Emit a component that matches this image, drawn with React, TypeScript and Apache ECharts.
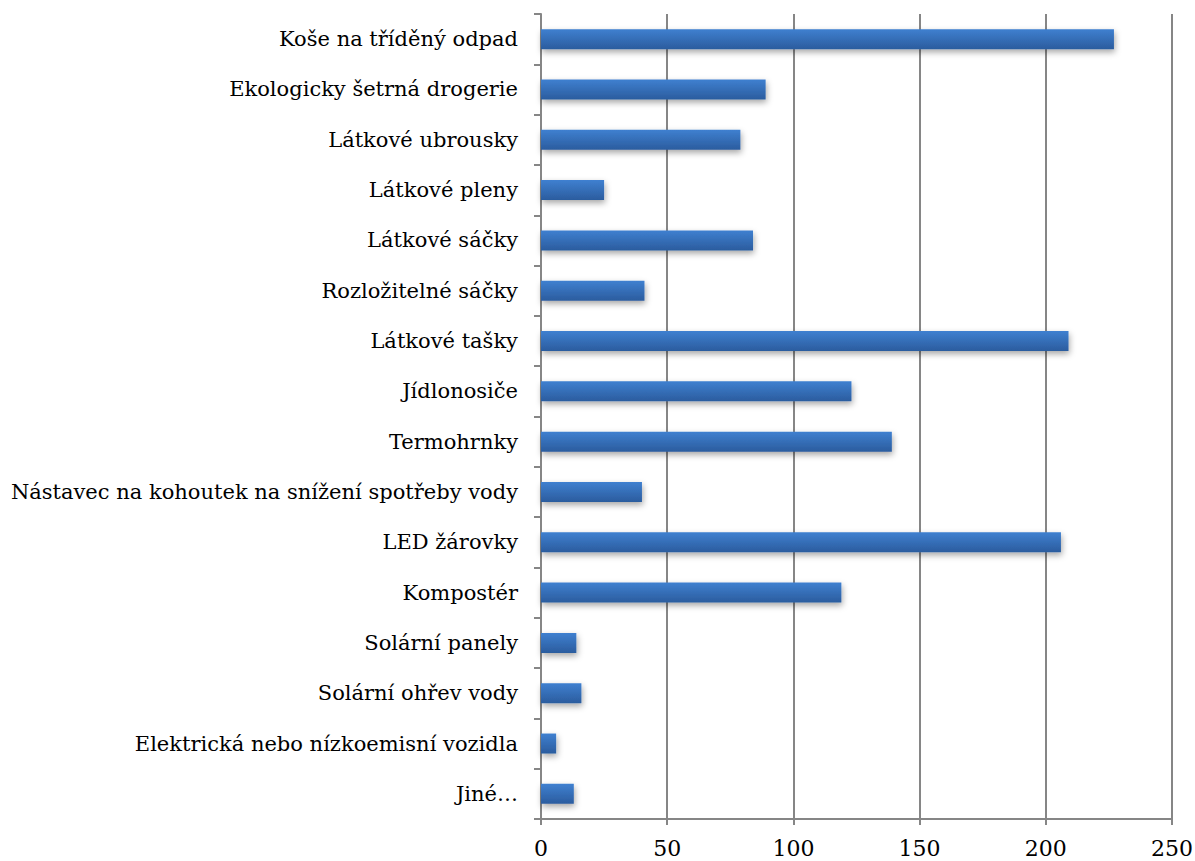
import React, { useEffect, useRef } from "react";
import * as echarts from "echarts";

const categories = [
  "Koše na tříděný odpad",
  "Ekologicky šetrná drogerie",
  "Látkové ubrousky",
  "Látkové pleny",
  "Látkové sáčky",
  "Rozložitelné sáčky",
  "Látkové tašky",
  "Jídlonosiče",
  "Termohrnky",
  "Nástavec na kohoutek na snížení spotřeby vody",
  "LED žárovky",
  "Kompostér",
  "Solární panely",
  "Solární ohřev vody",
  "Elektrická nebo nízkoemisní vozidla",
  "Jiné…",
];
const values = [227, 89, 79, 25, 84, 41, 209, 123, 139, 40, 206, 119, 14, 16, 6, 13];

const FONT = "DejaVu Serif";

export default function App() {
  const ref = useRef<HTMLDivElement>(null);
  useEffect(() => {
    const chart = echarts.init(ref.current!, null, { renderer: "svg" });
    chart.setOption({
      animation: false,
      backgroundColor: "#ffffff",
      textStyle: { fontFamily: FONT },
      grid: { left: 541, right: 23, top: 14, bottom: 42, outerBoundsMode: "none" },
      xAxis: {
        type: "value",
        min: 0,
        max: 250,
        interval: 50,
        axisLine: { show: true, lineStyle: { color: "#868686", width: 2 } },
        axisTick: { show: true, length: 6, lineStyle: { color: "#868686", width: 2 } },
        splitLine: { show: true, lineStyle: { color: "#868686", width: 2 } },
        axisLabel: {
          color: "#000",
          fontFamily: FONT,
          fontSize: 22,
          margin: 18,
        },
      },
      yAxis: {
        type: "category",
        data: categories,
        inverse: true,
        axisLine: { show: true, lineStyle: { color: "#868686", width: 2 } },
        axisTick: { show: true, length: 7, lineStyle: { color: "#868686", width: 2 } },
        axisLabel: {
          color: "#000",
          fontFamily: FONT,
          fontSize: 21,
          margin: 23,
        },
      },
      series: [
        {
          type: "bar",
          data: values,
          barWidth: 20,
          itemStyle: {
            color: new echarts.graphic.LinearGradient(0, 0, 0, 1, [
              { offset: 0, color: "#3f80d0" },
              { offset: 1, color: "#2b5c9e" },
            ]),
            shadowColor: "rgba(0,0,0,0.35)",
            shadowBlur: 6,
            shadowOffsetY: 3,
            shadowOffsetX: 1,
          },
        },
      ],
    });
    return () => chart.dispose();
  }, []);
  return (
    <div
      ref={ref}
      style={{ position: "absolute", left: 0, top: 0, width: 1195, height: 861 }}
    />
  );
}
